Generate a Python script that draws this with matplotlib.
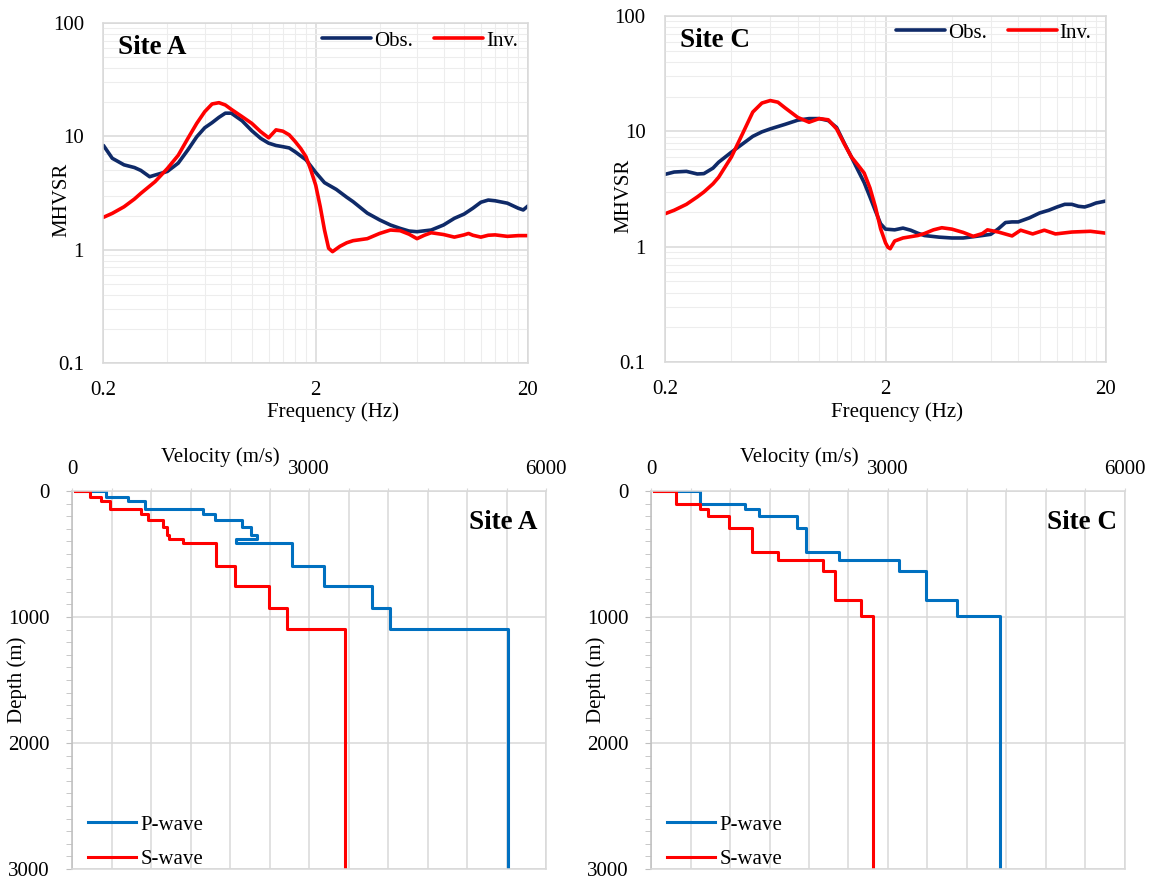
import numpy as np
import matplotlib
matplotlib.use("Agg")
import matplotlib.pyplot as plt
from matplotlib.ticker import FixedLocator, NullFormatter, FuncFormatter

plt.rcParams['font.family'] = ['Liberation Serif', 'DejaVu Serif']

# ---- MHVSR curves, Site A ----
freq_obs_a = [0.2, 0.22, 0.25, 0.28, 0.3, 0.33, 0.35, 0.4, 0.45, 0.5, 0.55, 0.6, 0.65, 0.7,
              0.75, 0.8, 0.9, 1.0, 1.1, 1.2, 1.3, 1.4, 1.5, 1.6, 1.8, 2.0, 2.2, 2.5, 2.8, 3.0,
              3.5, 4, 4.5, 5, 5.5, 6, 7, 8, 9, 10, 11, 12, 13, 14, 16, 18, 19, 20]
mhvsr_obs_a = [8.3, 6.4, 5.6, 5.3, 5.0, 4.4, 4.55, 4.9, 5.8, 7.6, 9.9, 11.9, 13.2, 14.7,
               16.0, 16.0, 13.7, 11.2, 9.6, 8.7, 8.3, 8.1, 7.9, 7.3, 6.2, 4.8, 3.9, 3.4, 2.9, 2.65,
               2.1, 1.83, 1.65, 1.54, 1.46, 1.44, 1.49, 1.65, 1.89, 2.06, 2.32, 2.62, 2.74, 2.70,
               2.57, 2.32, 2.24, 2.43]
freq_inv_a = [0.2, 0.22, 0.25, 0.28, 0.3, 0.35, 0.4, 0.45, 0.5, 0.55, 0.6, 0.65, 0.7, 0.75,
              0.8, 0.9, 1.0, 1.1, 1.2, 1.3, 1.4, 1.5, 1.6, 1.7, 1.8, 1.9, 2.0, 2.1, 2.2, 2.3,
              2.4, 2.6, 2.8, 3.0, 3.5, 4, 4.5, 5, 5.5, 6, 6.5, 7, 8, 9, 10, 10.5, 11, 12, 13,
              14, 16, 18, 20]
mhvsr_inv_a = [1.93, 2.09, 2.39, 2.80, 3.14, 3.98, 5.2, 6.8, 9.6, 13.0, 16.5, 19.3, 19.8, 18.9,
               17.3, 14.9, 13.0, 11.0, 9.7, 11.4, 11.1, 10.3, 9.0, 7.8, 6.6, 5.0, 3.7, 2.4, 1.49,
               1.03, 0.96, 1.07, 1.15, 1.20, 1.25, 1.39, 1.49, 1.47, 1.37, 1.25, 1.34, 1.41, 1.36,
               1.29, 1.35, 1.39, 1.34, 1.29, 1.34, 1.35, 1.31, 1.33, 1.33]

# ---- MHVSR curves, Site C ----
freq_obs_c = [0.2, 0.22, 0.25, 0.28, 0.3, 0.33, 0.35, 0.4, 0.45, 0.5, 0.55, 0.6, 0.7, 0.8,
              0.9, 1.0, 1.1, 1.2, 1.3, 1.4, 1.5, 1.6, 1.7, 1.8, 1.9, 2.0, 2.2, 2.4, 2.6, 2.8,
              3.0, 3.5, 4, 4.5, 5, 5.5, 6, 6.5, 7, 7.5, 8, 9, 10, 11, 12, 13, 14, 15, 16, 17,
              18, 20]
mhvsr_obs_c = [4.24, 4.44, 4.5, 4.27, 4.3, 4.8, 5.4, 6.6, 7.8, 9.05, 9.9, 10.5, 11.5, 12.5,
               12.9, 12.9, 12.4, 10.8, 7.9, 6.0, 4.6, 3.6, 2.70, 2.04, 1.58, 1.42, 1.40, 1.45,
               1.39, 1.31, 1.25, 1.21, 1.19, 1.19, 1.22, 1.25, 1.28, 1.43, 1.62, 1.64, 1.64,
               1.78, 1.96, 2.07, 2.21, 2.33, 2.33, 2.24, 2.21, 2.29, 2.39, 2.49]
freq_inv_c = [0.2, 0.22, 0.25, 0.28, 0.3, 0.33, 0.35, 0.4, 0.45, 0.5, 0.55, 0.6, 0.65, 0.7,
              0.8, 0.9, 1.0, 1.1, 1.2, 1.3, 1.4, 1.5, 1.6, 1.7, 1.8, 1.9, 2.0, 2.05, 2.1, 2.2,
              2.4, 2.8, 3.0, 3.3, 3.6, 4, 4.5, 5, 5.5, 5.8, 6.5, 7.5, 8.2, 9.3, 10.5, 11.8, 14,
              17, 20]
mhvsr_inv_c = [1.93, 2.07, 2.33, 2.70, 2.98, 3.51, 4.0, 6.0, 9.6, 14.7, 17.6, 18.5, 17.9, 16.0,
               13.2, 12.0, 12.9, 12.6, 10.5, 7.8, 6.0, 5.1, 4.35, 3.23, 2.21, 1.43, 1.08, 0.99,
               0.96, 1.12, 1.19, 1.25, 1.30, 1.40, 1.46, 1.42, 1.33, 1.23, 1.30, 1.40, 1.34,
               1.24, 1.39, 1.29, 1.39, 1.29, 1.34, 1.36, 1.31]

# ---- Velocity profiles (layer top depth in m, velocity in m/s) ----
surface_v = 40
tops_a = [0, 50, 77, 141, 184, 226, 282, 346, 383, 414, 594, 752, 929, 1093]
vp_a = [435, 709, 920, 1659, 1807, 2157, 2271, 2335, 2081, 2778, 3188, 3791, 4024, 5522]
vs_a = [232, 372, 477, 870, 963, 1153, 1203, 1229, 1406, 1828, 2060, 2495, 2723, 3454]

tops_c = [0, 99, 139, 200, 291, 480, 544, 637, 867, 990]
vp_c = [620, 1190, 1367, 1844, 1958, 2380, 3139, 3476, 3877, 4417]
vs_c = [316, 620, 726, 991, 1283, 1603, 2173, 2329, 2654, 2814]

max_depth = 3000

OBS_COLOR = '#0f2a68'
INV_COLOR = '#ff0000'
P_COLOR = '#0070c0'
S_COLOR = '#ff0000'
GRID = '#d9d9d9'
GRID_MINOR = '#ededed'
FS = 15


def step_path(tops, vel, v0, bottom):
    xs, ys = [v0], [0]
    for i, v in enumerate(vel):
        base = tops[i + 1] if i + 1 < len(tops) else bottom
        xs += [v, v]
        ys += [tops[i], base]
    return xs, ys


def hvsr_panel(ax, fo, yo, fi, yi, site, lab_x, xlab_x, leg_xy):
    ax.plot(fo, yo, color=OBS_COLOR, lw=2.6, label='Obs.', solid_capstyle='round',
            solid_joinstyle='round')
    ax.plot(fi, yi, color=INV_COLOR, lw=2.6, label='Inv.', solid_capstyle='round',
            solid_joinstyle='round')
    ax.set_xscale('log')
    ax.set_yscale('log')
    ax.set_xlim(0.2, 20)
    ax.set_ylim(0.1, 100)
    fmt = FuncFormatter(lambda v, p: f'{v:g}')
    ax.xaxis.set_major_locator(FixedLocator([0.2, 2, 20]))
    ax.xaxis.set_minor_locator(FixedLocator([0.2 * k for k in range(2, 10)] +
                                            [2 * k for k in range(2, 10)]))
    ax.yaxis.set_major_locator(FixedLocator([0.1, 1, 10, 100]))
    ax.yaxis.set_minor_locator(FixedLocator([d * k for d in (0.1, 1, 10) for k in range(2, 10)]))
    ax.xaxis.set_major_formatter(fmt)
    ax.yaxis.set_major_formatter(fmt)
    ax.xaxis.set_minor_formatter(NullFormatter())
    ax.yaxis.set_minor_formatter(NullFormatter())
    ax.grid(which='major', color=GRID, lw=1.1)
    ax.grid(which='minor', color=GRID_MINOR, lw=0.8)
    ax.tick_params(which='both', length=0, labelsize=FS)
    ax.tick_params(axis='x', pad=13)
    ax.tick_params(axis='y', pad=14)
    for s in ax.spines.values():
        s.set_color(GRID)
        s.set_linewidth(1.1)
    ax.text(0.034, 0.929, site, transform=ax.transAxes, fontsize=19.5, fontweight='bold',
            ha='left', va='center')
    ax.text(lab_x, 0.48, 'MHVSR', transform=ax.transAxes, rotation=90, fontsize=FS,
            ha='center', va='center')
    ax.text(xlab_x, -0.145, 'Frequency (Hz)', transform=ax.transAxes, fontsize=FS,
            ha='center', va='center')
    ax.legend(loc='center right', bbox_to_anchor=leg_xy, ncol=2, frameon=False,
              fontsize=FS, handlelength=2.35, handletextpad=0.15, columnspacing=1.0,
              borderpad=0.1, borderaxespad=0)


def profile_panel(ax, tops, vp, vs, site):
    xp, yp = step_path(tops, vp, surface_v, max_depth)
    xs, ys = step_path(tops, vs, surface_v, max_depth)
    ax.plot(xp, yp, color=P_COLOR, lw=2.2, label='P-wave')
    ax.plot(xs, ys, color=S_COLOR, lw=2.2, label='S-wave')
    ax.set_xlim(0, 6000)
    ax.set_ylim(max_depth, 0)
    ax.xaxis.tick_top()
    xt = np.arange(0, 6001, 500)
    ax.set_xticks(xt)
    ax.set_xticklabels([str(v) if v % 3000 == 0 else '' for v in xt])
    ax.set_yticks([0, 1000, 2000, 3000])
    ax.set_yticks(np.arange(0, 3001, 100), minor=True)
    ax.grid(which='major', color=GRID, lw=1.1)
    ax.tick_params(axis='x', which='both', length=2, color=GRID, labelsize=FS, pad=7)
    ax.tick_params(axis='y', which='both', direction='out', length=4, color='#bfbfbf',
                   labelsize=FS, pad=12)
    for s in ax.spines.values():
        s.set_color(GRID)
        s.set_linewidth(1.1)
    ax.spines['left'].set_color('#bfbfbf')
    ax.text(0.983, 0.918, site, transform=ax.transAxes, fontsize=19.5, fontweight='bold',
            ha='right', va='center')
    ax.text(0.312, 1.09, 'Velocity (m/s)', transform=ax.transAxes, fontsize=FS,
            ha='center', va='center')
    ax.text(-0.115, 0.5, 'Depth (m)', transform=ax.transAxes, rotation=90, fontsize=FS,
            ha='center', va='center')
    ax.legend(loc='lower left', bbox_to_anchor=(0.03, -0.005), frameon=False, fontsize=FS,
              handlelength=2.3, handletextpad=0.2, labelspacing=0.7, borderpad=0.1,
              borderaxespad=0)


fig = plt.figure(figsize=(11.51, 8.8), dpi=100)
ax1 = fig.add_axes([0.0899, 0.5875, 0.3688, 0.3864])
ax2 = fig.add_axes([0.5778, 0.5886, 0.3831, 0.3932])
ax3 = fig.add_axes([0.0626, 0.0125, 0.4118, 0.4295])
ax4 = fig.add_axes([0.5656, 0.0125, 0.4118, 0.4295])

hvsr_panel(ax1, freq_obs_a, mhvsr_obs_a, freq_inv_a, mhvsr_inv_a, 'Site A', -0.098, 0.54,
           (0.982, 0.947))
hvsr_panel(ax2, freq_obs_c, mhvsr_obs_c, freq_inv_c, mhvsr_inv_c, 'Site C', -0.093, 0.526,
           (0.972, 0.951))
profile_panel(ax3, tops_a, vp_a, vs_a, 'Site A')
profile_panel(ax4, tops_c, vp_c, vs_c, 'Site C')

fig.savefig('out.png', dpi=100)
